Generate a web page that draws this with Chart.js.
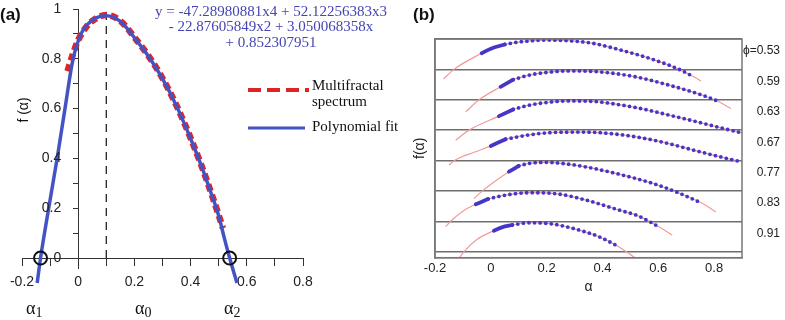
<!DOCTYPE html>
<html>
<head>
<meta charset="utf-8">
<script src="https://cdn.jsdelivr.net/npm/chart.js@4.4.0/dist/chart.umd.min.js"></script>
<style>
  html, body { margin: 0; padding: 0; background: #fff; }
  #wrap { position: relative; width: 785px; height: 320px; }
  #boxA { position: absolute; left: 0; top: 0; width: 400px; height: 320px; }
  #boxB { position: absolute; left: 400px; top: 0; width: 385px; height: 320px; }
</style>
</head>
<body>
<div id="wrap">
  <div id="boxA"><canvas id="spectrumChart"></canvas></div>
  <div id="boxB"><canvas id="stackChart"></canvas></div>
</div>
<script>
// ---------- panel (a): spectrum + polynomial fit ----------
const fitAlpha = [-0.146, -0.134, -0.105, -0.075, -0.047, -0.02, 0.01, 0.05, 0.1, 0.15, 0.21, 0.25, 0.3, 0.35, 0.4, 0.44, 0.47, 0.5, 0.52, 0.539, 0.565];
const fitF     = [-0.10, 0, 0.2, 0.4, 0.6, 0.79, 0.9, 0.955, 0.973, 0.95, 0.87, 0.81, 0.72, 0.61, 0.48, 0.365, 0.27, 0.17, 0.08, 0, -0.10];

const mfAlpha = [-0.038, -0.02, 0.0, 0.03, 0.06, 0.1, 0.15, 0.21, 0.25, 0.3, 0.35, 0.4, 0.44, 0.47, 0.5, 0.515];
const mfF     = [0.75, 0.815, 0.875, 0.93, 0.96, 0.976, 0.952, 0.872, 0.812, 0.722, 0.612, 0.482, 0.367, 0.272, 0.172, 0.12];

const alpha0Line = [0.1, 0.1];
const alpha0F = [0, 0.97];
const rootAlpha = [-0.134, 0.539];
const rootF = [0, 0];

const xTicksA = [-0.2, -0.1, 0, 0.1, 0.2, 0.3, 0.4, 0.5, 0.6, 0.7, 0.8];
const xLabelsA = ['-0.2', '', '0', '', '0.2', '', '0.4', '', '0.6', '', '0.8'];
const yTicksA = [0, 0.1, 0.2, 0.3, 0.4, 0.5, 0.6, 0.7, 0.8, 0.9, 1];
const yLabelsA = ['0', '', '0.2', '', '0.4', '', '0.6', '', '0.8', '', '1'];

const equationLines = [
  'y = -47.28980881x4 + 52.12256383x3',
  '- 22.87605849x2 + 3.050068358x',
  '+ 0.852307951'
];
const alphaSubs = ['1', '0', '2'];

// ---------- panel (b): stacked spectra ----------
const phiLabels = ['\u03d5=0.53', '0.59', '0.63', '0.67', '0.77', '0.83', '0.91'];
const spectraAlpha = [
  [-0.17, -0.132, -0.033, 0.0, 0.05, 0.1, 0.2, 0.3, 0.37, 0.46, 0.58, 0.675, 0.722, 0.753],
  [-0.09, -0.042, 0.035, 0.08, 0.137, 0.2, 0.28, 0.388, 0.519, 0.639, 0.758, 0.812, 0.86],
  [-0.126, -0.078, 0.029, 0.08, 0.137, 0.2, 0.28, 0.36, 0.436, 0.532, 0.627, 0.723, 0.818, 0.89, 0.9],
  [-0.15, -0.13, -0.06, 0.0, 0.053, 0.149, 0.245, 0.34, 0.436, 0.532, 0.627, 0.723, 0.818, 0.896],
  [-0.06, -0.03, 0.02, 0.065, 0.1, 0.137, 0.197, 0.26, 0.34, 0.459, 0.579, 0.663, 0.758, 0.806],
  [-0.162, -0.144, -0.1, -0.054, -0.01, 0.041, 0.137, 0.244, 0.34, 0.459, 0.53, 0.602, 0.65],
  [-0.114, -0.096, -0.05, 0.011, 0.04, 0.077, 0.137, 0.22, 0.316, 0.388, 0.454, 0.519]
];
const spectraF = [
  [-0.32, 0.0, 0.53, 0.68, 0.82, 0.9, 0.965, 0.93, 0.85, 0.65, 0.33, 0.0, -0.22, -0.38],
  [-0.40, 0.0, 0.425, 0.66, 0.81, 0.9, 0.95, 0.92, 0.754, 0.48, 0.152, -0.04, -0.29],
  [-0.33, 0.0, 0.46, 0.68, 0.82, 0.91, 0.96, 0.95, 0.87, 0.72, 0.52, 0.31, 0.09, -0.07, -0.09],
  [-0.15, 0.0, 0.27, 0.48, 0.70, 0.86, 0.93, 0.935, 0.88, 0.76, 0.58, 0.35, 0.13, -0.04],
  [-0.25, 0.0, 0.35, 0.63, 0.82, 0.905, 0.94, 0.9, 0.79, 0.55, 0.25, -0.03, -0.41, -0.69],
  [-0.18, 0.0, 0.33, 0.557, 0.73, 0.84, 0.94, 0.895, 0.70, 0.37, 0.17, -0.18, -0.45],
  [-0.22, 0.0, 0.4, 0.69, 0.8, 0.876, 0.95, 0.91, 0.71, 0.49, 0.185, -0.22]
];
// index of first dot, end of the dense run, last dot
const dotStart = [2, 2, 2, 3, 3, 3, 3];
const denseEnd = [4, 3, 3, 4, 4, 4, 5];
const dotEnd = [12, 11, 13, 13, 12, 11, 10];

const xTicksB = [-0.2, 0, 0.2, 0.4, 0.6, 0.8];
const xLabelsB = ['-0.2', '0', '0.2', '0.4', '0.6', '0.8'];

const sans = '"Liberation Sans", Arial, sans-serif';
const serif = '"Liberation Serif", "Times New Roman", serif';
const fitColor = '#4453c4';
const mfColor = '#e02424';
const dotColor = '#4636c8';
const thinRed = '#f29a9a';

function toPoints(xs, ys, offset) {
  return xs.map((x, i) => ({ x: x, y: ys[i] + (offset || 0) }));
}

// texts and legend of panel (a)
const annotateA = {
  id: 'annotateA',
  afterDraw(chart) {
    const ctx = chart.ctx;
    const xs = chart.scales.x;
    const ys = chart.scales.y;
    ctx.save();
    ctx.textBaseline = 'middle';

    ctx.fillStyle = '#111';
    ctx.font = 'bold 17px ' + sans;
    ctx.textAlign = 'left';
    ctx.fillText('(a)', 0, 15);

    // y tick labels, left of the axis that sits at alpha = 0
    ctx.fillStyle = '#222';
    ctx.font = '14px ' + sans;
    ctx.textAlign = 'right';
    const axisX = xs.getPixelForValue(0);
    yTicksA.forEach((v, i) => {
      if (yLabelsA[i]) ctx.fillText(yLabelsA[i], axisX - 17, ys.getPixelForValue(v));
    });

    ctx.save();
    ctx.translate(24, 110);
    ctx.rotate(-Math.PI / 2);
    ctx.textAlign = 'center';
    ctx.fillStyle = '#111';
    ctx.fillText('f (\u03b1)', 0, 0);
    ctx.restore();

    ctx.fillStyle = '#4444b4';
    ctx.font = '15px ' + serif;
    ctx.textAlign = 'center';
    equationLines.forEach((line, i) => ctx.fillText(line, 271, 12 + i * 15.5));

    // alpha_1, alpha_0, alpha_2 under the axis
    ctx.fillStyle = '#111';
    ctx.textAlign = 'left';
    const subX = [26, 135, 224];
    alphaSubs.forEach((s, i) => {
      ctx.font = '18px ' + serif;
      ctx.fillText('\u03b1', subX[i], 309);
      const w = ctx.measureText('\u03b1').width;
      ctx.font = '14px ' + serif;
      ctx.fillText(s, subX[i] + w, 313);
    });

    // legend
    ctx.strokeStyle = mfColor;
    ctx.lineWidth = 4;
    ctx.setLineDash([13, 6]);
    ctx.beginPath();
    ctx.moveTo(248, 90);
    ctx.lineTo(309, 90);
    ctx.stroke();
    ctx.setLineDash([]);
    ctx.strokeStyle = fitColor;
    ctx.lineWidth = 3;
    ctx.beginPath();
    ctx.moveTo(248, 128);
    ctx.lineTo(305, 128);
    ctx.stroke();

    ctx.fillStyle = '#111';
    ctx.font = '15px ' + serif;
    ctx.fillText('Multifractal', 312, 86);
    ctx.fillText('spectrum', 312, 102);
    ctx.fillText('Polynomial fit', 312, 127);
    ctx.restore();
  }
};

new Chart(document.getElementById('spectrumChart'), {
  type: 'scatter',
  data: {
    datasets: [{
      label: 'roots',
      data: toPoints(rootAlpha, rootF),
      pointRadius: 6.5,
      pointBorderWidth: 2,
      pointBorderColor: '#111',
      pointBackgroundColor: 'rgba(0,0,0,0)',
      showLine: false,
      clip: false
    }, {
      label: 'Polynomial fit',
      data: toPoints(fitAlpha, fitF),
      showLine: true,
      borderColor: fitColor,
      borderWidth: 3.5,
      pointRadius: 0,
      cubicInterpolationMode: 'monotone',
      clip: false
    }, {
      label: 'Multifractal spectrum',
      data: toPoints(mfAlpha, mfF),
      showLine: true,
      borderColor: mfColor,
      borderWidth: 6.5,
      borderDash: [7, 4],
      pointRadius: 0,
      cubicInterpolationMode: 'monotone',
      clip: false
    }, {
      label: 'alpha0',
      data: toPoints(alpha0Line, alpha0F),
      showLine: true,
      borderColor: '#222',
      borderWidth: 1.3,
      borderDash: [8, 6],
      pointRadius: 0
    }]
  },
  options: {
    responsive: true,
    maintainAspectRatio: false,
    animation: false,
    devicePixelRatio: 1,
    layout: { padding: { left: 22, right: 97, top: 9, bottom: 52 } },
    plugins: { legend: { display: false }, tooltip: { enabled: false } },
    scales: {
      x: {
        type: 'linear',
        min: -0.2,
        max: 0.8,
        position: { y: 0 },
        afterBuildTicks: s => { s.ticks = xTicksA.map(v => ({ value: v })); },
        grid: { drawOnChartArea: false, color: '#333', tickLength: 7 },
        border: { color: '#333', width: 1 },
        ticks: {
          autoSkip: false, maxRotation: 0, padding: 9, color: '#222',
          font: { family: sans, size: 14 },
          callback: (v, i) => xLabelsA[i]
        }
      },
      y: {
        type: 'linear',
        min: -0.04,
        max: 1,
        position: { x: 0 },
        afterBuildTicks: s => { s.ticks = yTicksA.map(v => ({ value: v })); },
        grid: { drawOnChartArea: false, color: '#333', tickLength: 5 },
        border: { color: '#333', width: 1 },
        ticks: { display: false }
      }
    }
  },
  plugins: [annotateA]
});

// ---------- panel (b) ----------
const bandBase = phiLabels.map((_, i) => phiLabels.length - 1 - i);
const stackDatasets = [];
spectraAlpha.forEach((xs, i) => {
  const pts = toPoints(xs, spectraF[i], bandBase[i]);
  stackDatasets.push({
    data: pts,
    showLine: true,
    borderColor: thinRed,
    borderWidth: 1.2,
    pointRadius: 0,
    cubicInterpolationMode: 'monotone',
    order: 2
  });
  stackDatasets.push({
    data: pts.slice(dotStart[i], denseEnd[i] + 1),
    showLine: true,
    borderColor: dotColor,
    borderWidth: 3.8,
    borderCapStyle: 'round',
    pointRadius: 0,
    cubicInterpolationMode: 'monotone',
    order: 1
  });
  stackDatasets.push({
    data: pts.slice(denseEnd[i], dotEnd[i] + 1),
    showLine: true,
    borderColor: dotColor,
    borderWidth: 3.8,
    borderCapStyle: 'round',
    borderDash: [0, 5.6],
    pointRadius: 0,
    cubicInterpolationMode: 'monotone',
    order: 1
  });
});

const frameB = {
  id: 'frameB',
  afterDraw(chart) {
    const a = chart.chartArea;
    const ctx = chart.ctx;
    ctx.save();
    ctx.strokeStyle = '#777';
    ctx.lineWidth = 1.5;
    ctx.strokeRect(a.left, a.top, a.right - a.left, a.bottom - a.top);
    ctx.fillStyle = '#111';
    ctx.font = 'bold 17px ' + sans;
    ctx.textBaseline = 'middle';
    ctx.fillText('(b)', 13, 15);
    ctx.restore();
  }
};

new Chart(document.getElementById('stackChart'), {
  type: 'scatter',
  data: { datasets: stackDatasets },
  options: {
    responsive: true,
    maintainAspectRatio: false,
    animation: false,
    devicePixelRatio: 1,
    layout: { padding: { top: 39, right: 5, left: 0, bottom: 0 } },
    plugins: { legend: { display: false }, tooltip: { enabled: false } },
    scales: {
      x: {
        type: 'linear',
        position: 'bottom',
        min: -0.2,
        max: 0.9,
        afterBuildTicks: s => { s.ticks = xTicksB.map(v => ({ value: v })); },
        afterFit: s => { s.height = 62.3; },
        grid: { display: false, drawTicks: false },
        border: { color: '#777', width: 1.5 },
        ticks: {
          autoSkip: false, maxRotation: 0, padding: 3, color: '#222',
          font: { family: sans, size: 13 },
          callback: (v, i) => xLabelsB[i]
        },
        title: {
          display: true, text: '\u03b1', color: '#222',
          font: { family: sans, size: 14 },
          padding: { top: 0, bottom: 24.6 }
        }
      },
      y: {
        type: 'linear',
        position: 'left',
        min: -0.2,
        max: 7,
        afterBuildTicks: s => { s.ticks = [0, 1, 2, 3, 4, 5, 6, 7].map(v => ({ value: v })); },
        afterFit: s => { s.width = 35; },
        grid: { color: '#6e6e6e', lineWidth: 1.5, drawTicks: false },
        border: { color: '#777', width: 1.5 },
        ticks: { display: false },
        title: {
          display: true, text: 'f(\u03b1)', color: '#222',
          font: { family: sans, size: 14 },
          padding: { top: 11.6, bottom: 0 }
        }
      },
      y2: {
        type: 'linear',
        position: 'right',
        min: -0.2,
        max: 7,
        afterBuildTicks: s => { s.ticks = bandBase.slice().reverse().map(b => ({ value: b + 0.6 })); },
        afterFit: s => { s.width = 38; },
        grid: { display: false, drawTicks: false },
        border: { display: false },
        ticks: {
          crossAlign: 'far', padding: 0, color: '#222',
          font: { family: sans, size: 12 },
          callback: (v, i) => phiLabels[phiLabels.length - 1 - i]
        }
      }
    }
  },
  plugins: [frameB]
});
</script>
</body>
</html>
